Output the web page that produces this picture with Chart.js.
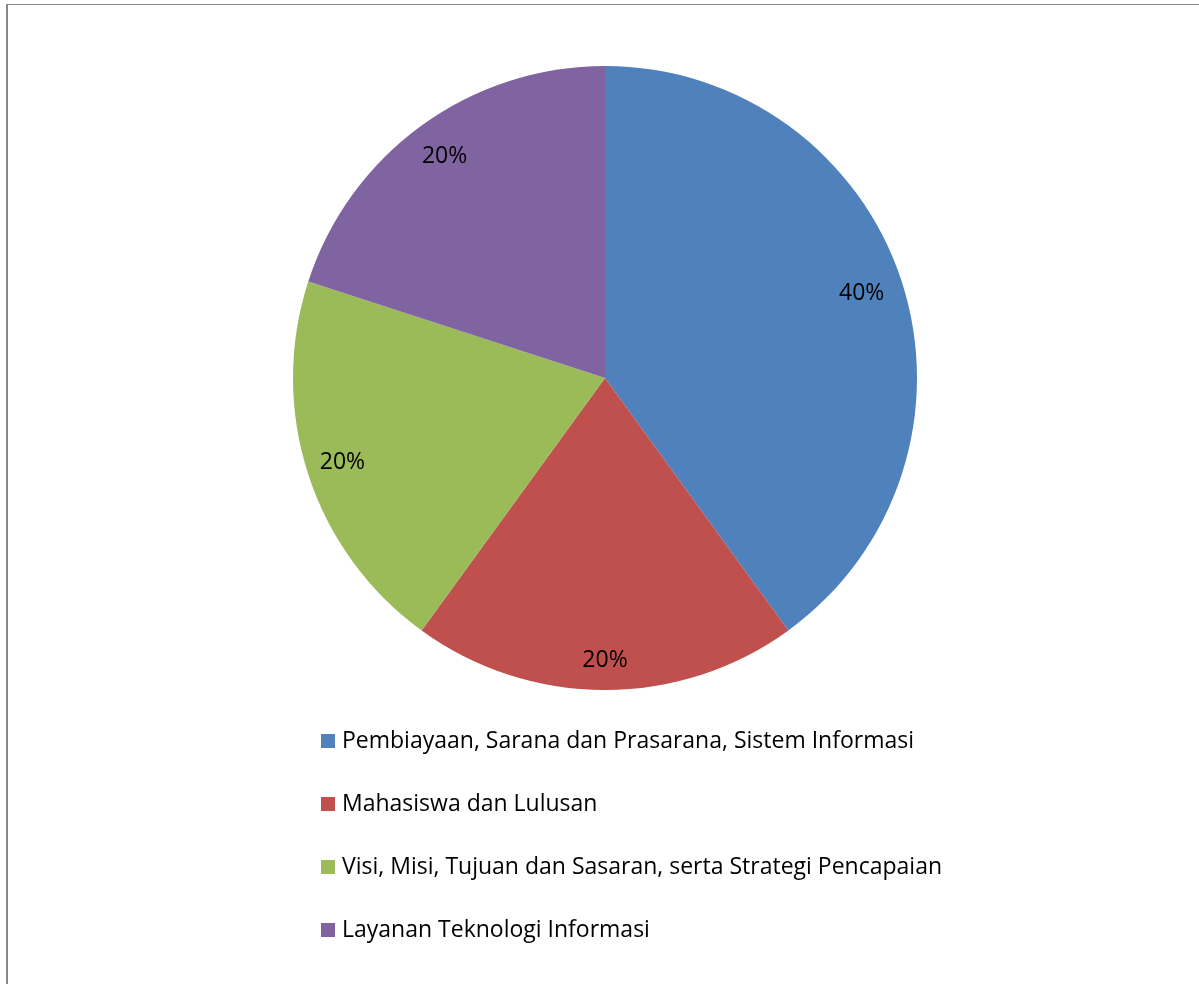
<!DOCTYPE html>
<html lang="id">
<head>
  <meta charset="UTF-8">
  <title>Pie Chart</title>
  <script src="https://cdn.jsdelivr.net/npm/chart.js"></script>
  <style>
    body {
      margin: 0;
      padding: 0;
      background: #ffffff;
      overflow: hidden;
    }
    canvas {
      display: block;
    }
  </style>
</head>
<body>
  <canvas id="pie-chart" width="1199" height="984"></canvas>
  <script>
    // data
    const labels = [
      "Pembiayaan, Sarana dan Prasarana, Sistem Informasi",
      "Mahasiswa dan Lulusan",
      "Visi, Misi, Tujuan dan Sasaran, serta Strategi Pencapaian",
      "Layanan Teknologi Informasi"
    ];
    const values = [40, 20, 20, 20];
    const colors = ["#4F81BD", "#C0504D", "#9BBB59", "#8064A2"];

    const FONT = "'Open Sans', sans-serif";

    // frame lines (top and left)
    const framePlugin = {
      id: "frame",
      beforeDraw(chart) {
        const ctx = chart.ctx;
        ctx.save();
        ctx.fillStyle = "#ffffff";
        ctx.fillRect(0, 0, chart.width, chart.height);
        ctx.fillStyle = "#878787";
        ctx.fillRect(6, 4, chart.width - 6, 1);
        ctx.fillRect(6, 4, 2, chart.height - 4);
        ctx.restore();
      }
    };

    // percentage labels inside the slices (distance from centre as share of radius)
    const labelDist = [0.865, 0.91, 0.885, 0.875];
    const percentPlugin = {
      id: "percentLabels",
      afterDatasetsDraw(chart) {
        const ctx = chart.ctx;
        const total = values.reduce((a, b) => a + b, 0);
        ctx.save();
        ctx.font = "23px " + FONT;
        ctx.fillStyle = "#000000";
        ctx.textAlign = "center";
        ctx.textBaseline = "middle";
        chart.getDatasetMeta(0).data.forEach((arc, i) => {
          const p = arc.getProps(["x", "y", "startAngle", "endAngle", "outerRadius"], true);
          const mid = (p.startAngle + p.endAngle) / 2;
          const r = p.outerRadius * labelDist[i];
          const pct = Math.round(values[i] / total * 100) + "%";
          ctx.fillText(pct, p.x + Math.cos(mid) * r, p.y + Math.sin(mid) * r - 1);
        });
        ctx.restore();
      }
    };

    // legend, one item per row below the pie
    const legendPlugin = {
      id: "rowLegend",
      afterDraw(chart) {
        const ctx = chart.ctx;
        const x = 321, y0 = 741, step = 63, box = 14;
        ctx.save();
        ctx.font = "23px " + FONT;
        ctx.textBaseline = "middle";
        labels.forEach((lab, i) => {
          const y = y0 + i * step;
          ctx.fillStyle = colors[i];
          ctx.fillRect(x, y - box / 2, box, box);
          ctx.fillStyle = "#000000";
          ctx.fillText(lab, x + 21, y);
        });
        ctx.restore();
      }
    };

    new Chart(document.getElementById("pie-chart"), {
      type: "pie",
      data: {
        labels: labels,
        datasets: [{
          data: values,
          backgroundColor: colors,
          borderWidth: 0
        }]
      },
      options: {
        responsive: false,
        animation: false,
        layout: {
          padding: { top: 66, bottom: 294, left: 293, right: 282 }
        },
        plugins: {
          legend: { display: false },
          tooltip: { enabled: false }
        }
      },
      plugins: [framePlugin, percentPlugin, legendPlugin]
    });
  </script>
</body>
</html>
